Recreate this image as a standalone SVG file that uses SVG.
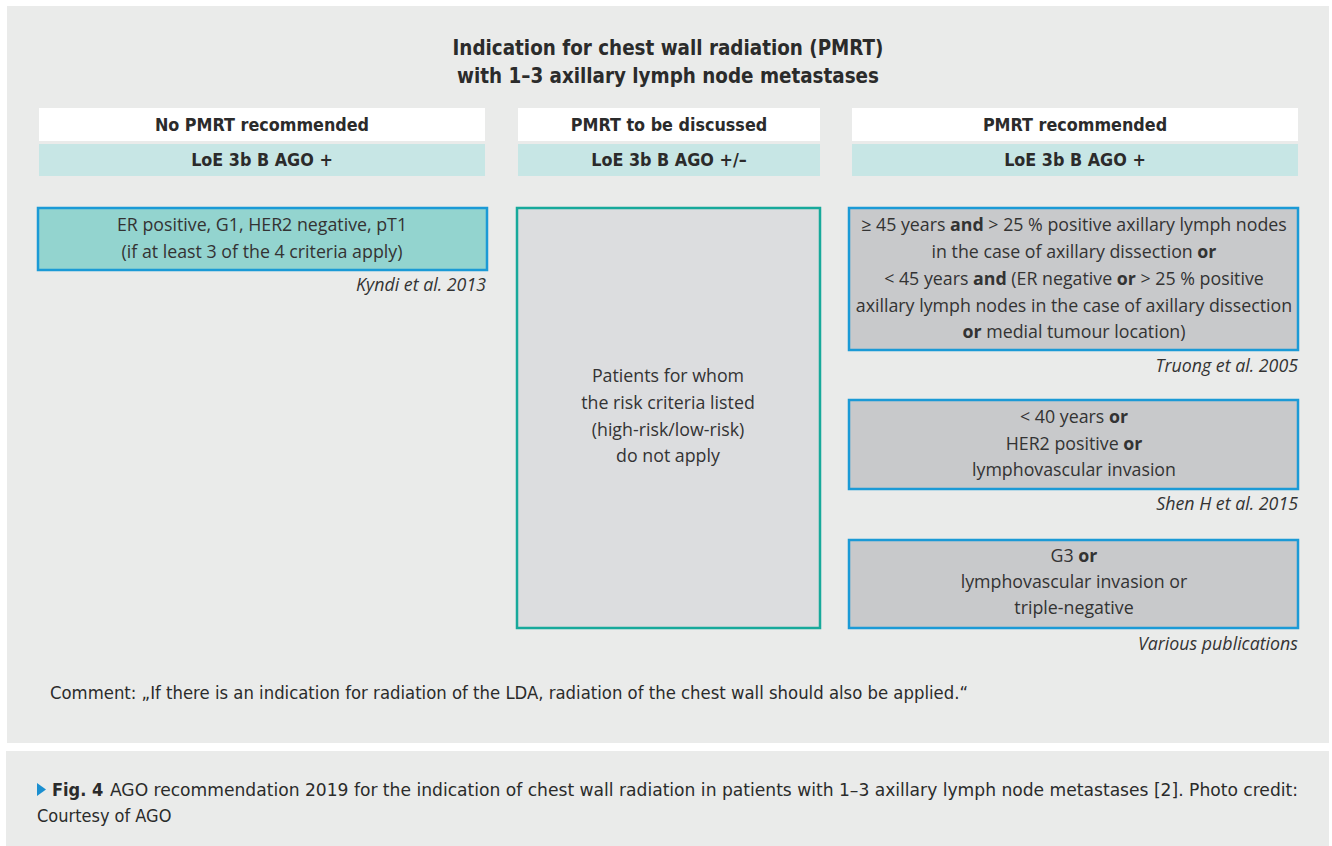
<svg xmlns="http://www.w3.org/2000/svg" width="1332" height="846" viewBox="0 0 1332 846">
<style>
.cond{font-family:"Liberation Sans Narrow","DejaVu Sans Condensed","Liberation Sans",sans-serif;fill:#2b2b2b}
.body{font-family:"Open Sans","Noto Sans","DejaVu Sans",sans-serif;fill:#333333;font-size:17.8px}
.ttl{font-size:20.4px;font-weight:bold}
.hdr{font-size:17.8px;font-weight:bold}
.ref{font-style:italic;text-anchor:end}
.mid{text-anchor:middle}
.b{font-weight:bold}
</style>
<rect x="0" y="0" width="1332" height="846" fill="#ffffff"/>
<rect x="7" y="6" width="1322" height="737" fill="#eaebea"/>
<rect x="6" y="751" width="1323" height="95" fill="#eaebea"/>

<g id="title">
<text class="cond ttl mid" x="668" y="55">Indication for chest wall radiation (PMRT)</text>
<text class="cond ttl mid" x="668" y="83">with 1–3 axillary lymph node metastases</text>
</g>

<g id="header-col1">
<rect x="39" y="108" width="446" height="33" fill="#ffffff"/>
<rect x="39" y="144" width="446" height="32" fill="#c7e6e5"/>
<text class="cond hdr mid" x="262" y="131">No PMRT recommended</text>
<text class="cond hdr mid" x="262" y="166">LoE 3b B AGO +</text>
</g>
<g id="header-col2">
<rect x="518" y="108" width="302" height="33" fill="#ffffff"/>
<rect x="518" y="144" width="302" height="32" fill="#c7e6e5"/>
<text class="cond hdr mid" x="669" y="131">PMRT to be discussed</text>
<text class="cond hdr mid" x="669" y="166">LoE 3b B AGO +/–</text>
</g>
<g id="header-col3">
<rect x="852" y="108" width="446" height="33" fill="#ffffff"/>
<rect x="852" y="144" width="446" height="32" fill="#c7e6e5"/>
<text class="cond hdr mid" x="1075" y="131">PMRT recommended</text>
<text class="cond hdr mid" x="1075" y="166">LoE 3b B AGO +</text>
</g>

<g id="node-low-risk">
<rect x="38" y="208" width="449" height="62" fill="#93d4cf" stroke="#1b9ad6" stroke-width="2.5"/>
<text class="body mid" x="262" y="231">ER positive, G1, HER2 negative, pT1</text>
<text class="body mid" x="262" y="258">(if at least 3 of the 4 criteria apply)</text>
<text class="body ref" x="486" y="291">Kyndi et al. 2013</text>
</g>

<g id="node-discussed">
<rect x="517" y="208" width="303" height="420" fill="#dcdddf" stroke="#17a99b" stroke-width="2.5"/>
<text class="body mid" x="668" y="382">Patients for whom</text>
<text class="body mid" x="668" y="409">the risk criteria listed</text>
<text class="body mid" x="668" y="436">(high-risk/low-risk)</text>
<text class="body mid" x="668" y="462">do not apply</text>
</g>

<g id="node-truong">
<rect x="849" y="208" width="449" height="142" fill="#c8c9cb" stroke="#1b9ad6" stroke-width="2.5"/>
<text class="body mid" x="1074" y="231">≥ 45 years <tspan class="b">and</tspan> &gt; 25 % positive axillary lymph nodes</text>
<text class="body mid" x="1074" y="258">in the case of axillary dissection <tspan class="b">or</tspan></text>
<text class="body mid" x="1074" y="285">&lt; 45 years <tspan class="b">and</tspan> (ER negative <tspan class="b">or</tspan> &gt; 25 % positive</text>
<text class="body mid" x="1074" y="312">axillary lymph nodes in the case of axillary dissection</text>
<text class="body mid" x="1074" y="338"><tspan class="b">or</tspan> medial tumour location)</text>
<text class="body ref" x="1298" y="372">Truong et al. 2005</text>
</g>

<g id="node-shen">
<rect x="849" y="400" width="449" height="89" fill="#c8c9cb" stroke="#1b9ad6" stroke-width="2.5"/>
<text class="body mid" x="1074" y="423">&lt; 40 years <tspan class="b">or</tspan></text>
<text class="body mid" x="1074" y="450">HER2 positive <tspan class="b">or</tspan></text>
<text class="body mid" x="1074" y="476">lymphovascular invasion</text>
<text class="body ref" x="1298" y="510">Shen H et al. 2015</text>
</g>

<g id="node-various">
<rect x="849" y="540" width="449" height="88" fill="#c8c9cb" stroke="#1b9ad6" stroke-width="2.5"/>
<text class="body mid" x="1074" y="562">G3 <tspan class="b">or</tspan></text>
<text class="body mid" x="1074" y="588">lymphovascular invasion or</text>
<text class="body mid" x="1074" y="614">triple-negative</text>
<text class="body ref" x="1298" y="650">Various publications</text>
</g>

<g id="connectors"></g>

<g id="comment">
<text class="cond" x="50" y="699" font-size="18" textLength="918" lengthAdjust="spacingAndGlyphs">Comment: „If there is an indication for radiation of the LDA, radiation of the chest wall should also be applied.“</text>
</g>

<g id="caption">
<polygon points="37,783 46,789.5 37,796" fill="#1b8fd0"/>
<text class="cond b" x="52" y="796" font-size="18">Fig. 4</text>
<text class="cond" x="110" y="796" font-size="18" textLength="1188" lengthAdjust="spacingAndGlyphs">AGO recommendation 2019 for the indication of chest wall radiation in patients with 1–3 axillary lymph node metastases [2]. Photo credit:</text>
<text class="cond" x="37" y="822" font-size="18">Courtesy of AGO</text>
</g>
</svg>
